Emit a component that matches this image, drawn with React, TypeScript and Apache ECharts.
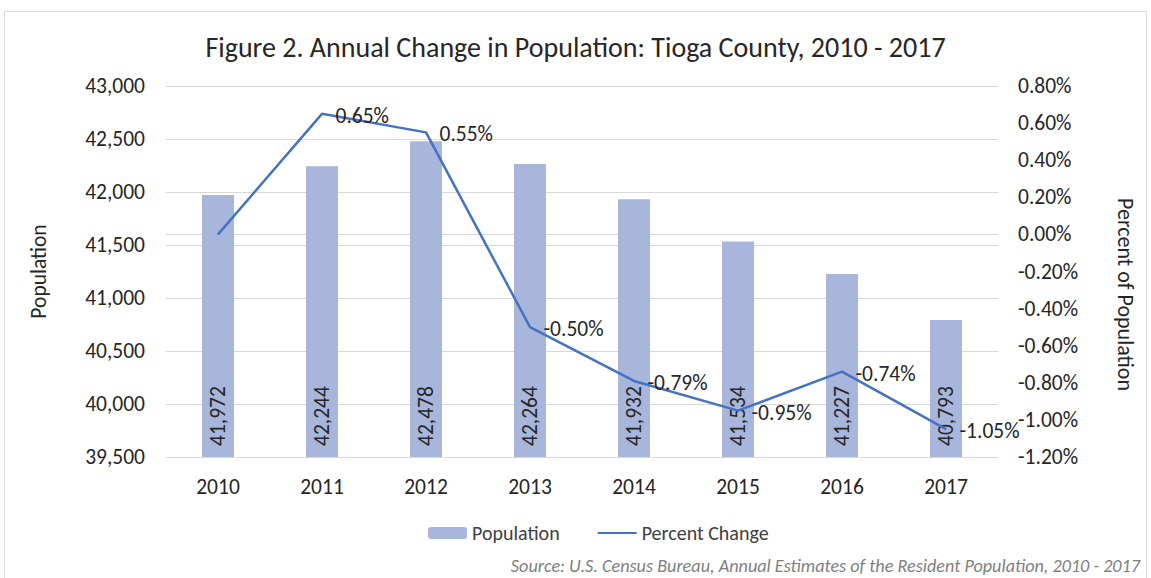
import React, { useEffect, useRef } from "react";
import * as echarts from "echarts";

const years = ["2010", "2011", "2012", "2013", "2014", "2015", "2016", "2017"];
const population = [41972, 42244, 42478, 42264, 41932, 41534, 41227, 40793];
const percentChange = [0.0, 0.65, 0.55, -0.5, -0.79, -0.95, -0.74, -1.05];
const showPctLabel = [false, true, true, true, true, true, true, true];

const FONT = "Carlito, Lato, 'Open Sans', sans-serif";

export default function App() {
  const ref = useRef<HTMLDivElement>(null);
  useEffect(() => {
    document.body.style.margin = "0";
    if (!ref.current) return;
    const chart = echarts.init(ref.current, undefined, { renderer: "svg" });
    chart.setOption({
      animation: false,
      textStyle: { fontFamily: FONT },
      title: {
        text: "Figure 2. Annual Change in Population: Tioga County, 2010 - 2017",
        left: "center",
        top: 28,
        textStyle: { fontFamily: FONT, fontSize: 28, fontWeight: "normal", color: "#262626" },
      },
      graphic: [
        {
          type: "rect",
          shape: { x: 4.5, y: 11.5, width: 1142, height: 620 },
          style: { fill: "none", stroke: "#D9D9D9", lineWidth: 1 },
          silent: true,
        },
        {
          type: "text",
          right: 11,
          top: 557,
          style: {
            text: "Source: U.S. Census Bureau, Annual Estimates of the Resident Population, 2010 - 2017",
            fontFamily: FONT,
            fontStyle: "italic",
            fontSize: 18.2,
            fill: "#7F7F7F",
          },
        },
      ],
      legend: {
        left: 423,
        top: 518,
        itemWidth: 39,
        itemHeight: 12,
        itemGap: 37,
        textStyle: { fontFamily: FONT, fontSize: 20, color: "#404040" },
        data: [
          { name: "Population" },
          { name: "Percent Change", itemStyle: { opacity: 0 } },
        ],
      },
      grid: { left: 166, right: 153, top: 86, bottom: 121 },
      xAxis: {
        type: "category",
        data: years,
        boundaryGap: true,
        axisTick: { show: false },
        axisLine: { lineStyle: { color: "#D9D9D9" } },
        axisLabel: { fontFamily: FONT, fontSize: 21.5, color: "#262626", margin: 19 },
      },
      yAxis: [
        {
          type: "value",
          min: 39500,
          max: 43000,
          interval: 500,
          name: "Population",
          nameLocation: "middle",
          nameRotate: 90,
          nameGap: 116,
          nameTextStyle: { fontFamily: FONT, fontSize: 21.5, color: "#262626" },
          axisLine: { show: false },
          axisTick: { show: false },
          splitLine: { lineStyle: { color: "#D9D9D9", width: 1 } },
          axisLabel: {
            fontFamily: FONT,
            fontSize: 21.5,
            color: "#262626",
            margin: 21,
            formatter: (v: number) => v.toLocaleString("en-US"),
          },
        },
        {
          type: "value",
          min: -1.2,
          max: 0.8,
          interval: 0.2,
          name: "Percent of Population",
          nameLocation: "middle",
          nameRotate: -90,
          nameGap: 116,
          nameTextStyle: {
            fontFamily: FONT,
            fontSize: 22,
            color: "#262626",
            padding: [0, 0, 0, 46],
          },
          axisLine: { show: false },
          axisTick: { show: false },
          splitLine: { show: false },
          axisLabel: {
            fontFamily: FONT,
            fontSize: 21.5,
            color: "#262626",
            margin: 20,
            formatter: (v: number) => v.toFixed(2) + "%",
          },
        },
      ],
      series: [
        {
          name: "Population",
          type: "bar",
          yAxisIndex: 0,
          barWidth: 32,
          data: population,
          itemStyle: { color: "#A9B6DB" },
          label: {
            show: true,
            position: "insideBottom",
            rotate: 90,
            align: "left",
            verticalAlign: "middle",
            distance: 11,
            fontFamily: FONT,
            fontSize: 21.5,
            color: "#262626",
            formatter: (p: any) => Number(p.value).toLocaleString("en-US"),
          },
        },
        {
          name: "Percent Change",
          type: "line",
          yAxisIndex: 1,
          data: percentChange.map((v, i) => ({
            value: v,
            label: { show: showPctLabel[i] },
          })),
          symbol: "circle",
          symbolSize: 1,
          showSymbol: true,
          lineStyle: { color: "#4472C4", width: 2.5 },
          itemStyle: { color: "#4472C4" },
          label: {
            show: true,
            position: "right",
            distance: 13,
            offset: [0, 2],
            fontFamily: FONT,
            fontSize: 21.5,
            color: "#262626",
            formatter: (p: any) => Number(p.value).toFixed(2) + "%",
          },
        },
      ],
    });
    return () => chart.dispose();
  }, []);
  return <div ref={ref} style={{ width: 1151, height: 578 }} />;
}
